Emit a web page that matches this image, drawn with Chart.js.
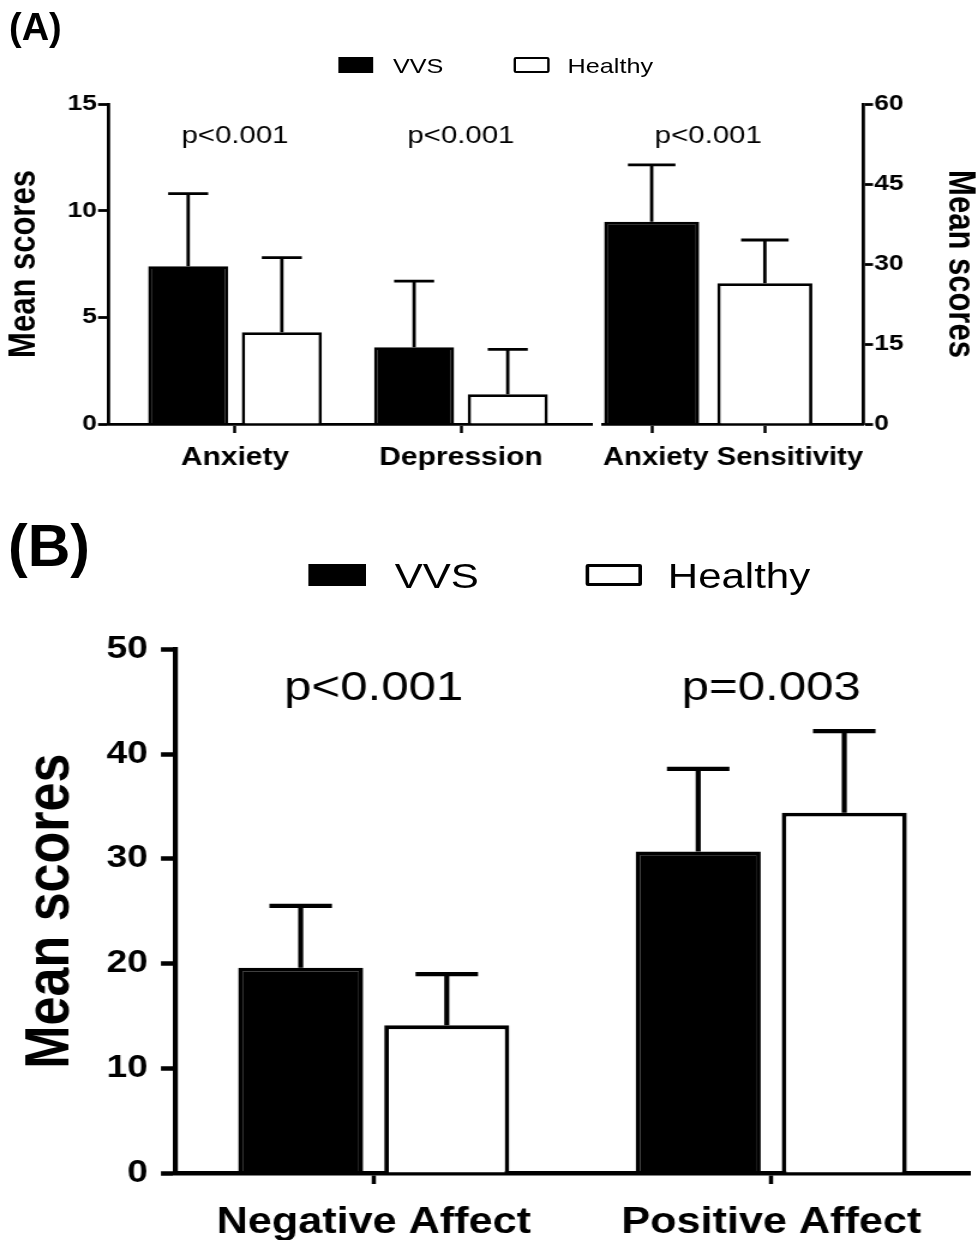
<!DOCTYPE html>
<html>
<head>
<meta charset="utf-8">
<title>Mean scores, VVS vs Healthy</title>
<script src="https://cdn.jsdelivr.net/npm/chart.js@4.4.1/dist/chart.umd.min.js"></script>
<style>
  html, body { margin: 0; padding: 0; background: #fff; width: 977px; height: 1245px; overflow: hidden; }
  body { position: relative; font-family: 'Liberation Sans', Arial, Helvetica, sans-serif; color: #000; }
  /* the figure is laid out at 814px and widened to the full page width */
  #fig { position: absolute; left: 0; top: 0; width: 814px; height: 1245px;
         transform: scaleX(1.2); transform-origin: 0 0; }
  #fig canvas { position: absolute; }
  .txt { position: absolute; white-space: nowrap; line-height: 1; }
  .swatch { position: absolute; box-sizing: border-box; }
</style>
</head>
<body>
<div id="fig">
  <canvas id="chartA1" width="500" height="394" style="left:0px;top:80px;width:500px;height:394px"></canvas>
  <canvas id="chartA2" width="330" height="394" style="left:490px;top:80px;width:330px;height:394px"></canvas>
  <canvas id="chartB" width="814" height="620" style="left:0px;top:620px;width:814px;height:620px"></canvas>
</div>
<script>
// ---- data ----
const seriesNames = ['VVS', 'Healthy'];

// Panel A, left axis
const categoriesA = ['Anxiety', 'Depression'];
const vvsMeanA = [7.4, 3.6];
const vvsSdA = [3.4, 3.1];
const healthyMeanA = [4.3, 1.4];
const healthySdA = [3.5, 2.1];
const pValuesA = ['p<0.001', 'p<0.001'];
const yTicksA = [0, 5, 10, 15];

// Panel A, right axis
const categoryAS = 'Anxiety Sensitivity';
const meanAS = [37.9, 26.4];   // VVS, Healthy
const sdAS = [10.7, 8.1];
const pValueAS = 'p<0.001';
const yTicksAS = [0, 15, 30, 45, 60];

// Panel B
const categoriesB = ['Negative Affect', 'Positive Affect'];
const vvsMeanB = [19.6, 30.7];
const vvsSdB = [5.9, 7.9];
const healthyMeanB = [14.1, 34.4];
const healthySdB = [4.9, 7.8];
const pValuesB = ['p<0.001', 'p=0.003'];
const yTicksB = [0, 10, 20, 30, 40, 50];

const axisTitle = 'Mean scores';

// ---- shared helpers ----
const FONT = "'Liberation Sans', Arial, Helvetica, sans-serif";
Chart.defaults.font.family = FONT;
Chart.defaults.color = '#000';

const ticksAt = values => scale => { scale.ticks = values.map(v => ({ value: v })); };
const fixWidth = w => scale => { scale.width = w; };
const fixHeight = h => scale => { scale.height = h; };

// upward-only SD whiskers with a cap half as wide as the bar
const errorBars = {
  id: 'errorBars',
  afterDatasetsDraw(chart, args, opts) {
    const ctx = chart.ctx;
    chart.data.datasets.forEach((ds, di) => {
      if (!ds.sd) return;
      const meta = chart.getDatasetMeta(di);
      const yScale = chart.scales[meta.yAxisID];
      ctx.save();
      ctx.strokeStyle = '#000';
      ctx.lineWidth = opts.lineWidth;
      ctx.lineCap = 'butt';
      meta.data.forEach((bar, i) => {
        const mean = meta.controller.getParsed(i).y;
        const top = yScale.getPixelForValue(mean + ds.sd[i]);
        const half = bar.width / 4;
        ctx.beginPath();
        ctx.moveTo(bar.x, bar.y);
        ctx.lineTo(bar.x, top);
        ctx.moveTo(bar.x - half, top);
        ctx.lineTo(bar.x + half, top);
        ctx.stroke();
      });
      ctx.restore();
    });
  }
};

// p-value annotations above each group
const pLabels = {
  id: 'pLabels',
  afterDatasetsDraw(chart, args, opts) {
    if (!opts.items) return;
    const ctx = chart.ctx;
    const xs = chart.scales.x;
    ctx.save();
    ctx.font = `${opts.size}px ${FONT}`;
    ctx.fillStyle = '#000';
    ctx.textAlign = 'center';
    ctx.textBaseline = 'alphabetic';
    opts.items.forEach(it => ctx.fillText(it.text, xs.getPixelForValue(it.at), chart.chartArea.top + opts.offset));
    ctx.restore();
  }
};

// ---- HTML labels and legends ----
const fig = document.getElementById('fig');
function addText(parent, text, left, baseline, size, bold) {
  const d = document.createElement('div');
  d.className = 'txt';
  d.textContent = text;
  d.style.left = left + 'px';
  d.style.top = (baseline - 0.8465 * size) + 'px';
  d.style.fontSize = size + 'px';
  if (bold) d.style.fontWeight = 'bold';
  parent.appendChild(d);
}
function addSwatch(left, top, w, h, filled, border) {
  const d = document.createElement('div');
  d.className = 'swatch';
  Object.assign(d.style, { left: left + 'px', top: top + 'px', width: w + 'px', height: h + 'px' });
  if (filled) d.style.background = '#000';
  else { d.style.background = '#fff'; d.style.border = border + 'px solid #000'; d.style.borderRadius = '2px'; }
  fig.appendChild(d);
}

// panel letters sit outside the widened figure
addText(document.body, '(A)', 9, 40, 38, true);
addText(document.body, '(B)', 8, 567, 59, true);

addSwatch(282, 57, 29, 16, true);
addText(fig, seriesNames[0], 327.5, 72.5, 21, false);
addSwatch(427.5, 57, 30, 16, false, 2.5);
addText(fig, seriesNames[1], 473, 72.5, 21, false);

addSwatch(257, 564, 47.5, 22, true);
addText(fig, seriesNames[0], 329, 588, 35, false);
addSwatch(488, 564, 46.5, 22, false, 3.5);
addText(fig, seriesNames[1], 556.5, 588, 35, false);

// ---- Panel A: Anxiety and Depression (left axis) ----
const LW_A = 2.8;
new Chart(document.getElementById('chartA1'), {
  type: 'bar',
  data: {
    datasets: [
      { label: seriesNames[0], data: categoriesA.map((c, i) => ({ x: i, y: vvsMeanA[i] })), sd: vvsSdA,
        backgroundColor: '#000', borderColor: '#000', borderWidth: LW_A },
      { label: seriesNames[1], data: categoriesA.map((c, i) => ({ x: i, y: healthyMeanA[i] })), sd: healthySdA,
        backgroundColor: '#fff', borderColor: '#000', borderWidth: LW_A }
    ]
  },
  options: {
    responsive: false, animation: false, devicePixelRatio: 1, events: [],
    datasets: { bar: { categoryPercentage: 0.829, barPercentage: 0.855 } },
    layout: { padding: { top: 24, right: 6.7, left: 0, bottom: 0 } },
    plugins: {
      legend: { display: false }, tooltip: { enabled: false },
      errorBars: { lineWidth: LW_A },
      pLabels: { size: 24.5, offset: 39, items: pValuesA.map((t, i) => ({ text: t, at: i })) }
    },
    scales: {
      x: {
        type: 'linear', min: -0.562, max: 1.58, offset: false, z: 1,
        afterBuildTicks: ticksAt(categoriesA.map((c, i) => i)),
        afterFit: fixHeight(50),
        ticks: { callback: v => categoriesA[v], autoSkip: false, maxRotation: 0, padding: 10,
                 font: { size: 25, weight: 'bold' } },
        grid: { offset: false, drawOnChartArea: false, tickLength: 9, tickWidth: 2.5, tickColor: '#000' },
        border: { color: '#000', width: LW_A }
      },
      y: {
        min: 0, max: 15,
        afterBuildTicks: ticksAt(yTicksA),
        afterFit: fixWidth(90),
        ticks: { padding: 1, font: { size: 22, weight: 'bold' } },
        grid: { drawOnChartArea: false, tickLength: 8.3, tickWidth: LW_A, tickColor: '#000' },
        border: { color: '#000', width: LW_A },
        title: { display: true, text: axisTitle, font: { size: 31, weight: 'bold' }, padding: { top: 1.4, bottom: 0 } }
      }
    }
  },
  plugins: [errorBars, pLabels]
});

// ---- Panel A: Anxiety Sensitivity (right axis) ----
new Chart(document.getElementById('chartA2'), {
  type: 'bar',
  data: {
    datasets: [
      { label: seriesNames[0], data: [{ x: 0, y: meanAS[0] }], sd: [sdAS[0]],
        backgroundColor: '#000', borderColor: '#000', borderWidth: LW_A },
      { label: seriesNames[1], data: [{ x: 1, y: meanAS[1] }], sd: [sdAS[1]],
        backgroundColor: '#fff', borderColor: '#000', borderWidth: LW_A }
    ]
  },
  options: {
    responsive: false, animation: false, devicePixelRatio: 1, events: [],
    datasets: { bar: { grouped: false, categoryPercentage: 1, barPercentage: 0.84 } },
    layout: { padding: { top: 24, right: 0, left: 12.5, bottom: 0 } },
    plugins: {
      legend: { display: false }, tooltip: { enabled: false },
      errorBars: { lineWidth: LW_A },
      pLabels: { size: 24.5, offset: 39, items: [{ text: pValueAS, at: 0.5 }] }
    },
    scales: {
      x: {
        type: 'linear', min: -0.43, max: 1.868, offset: false, z: 1,
        afterBuildTicks: ticksAt(meanAS.map((m, i) => i)),
        afterFit: fixHeight(50),
        ticks: { callback: () => '', autoSkip: false, maxRotation: 0, padding: 0 },
        grid: { offset: false, drawOnChartArea: false, tickLength: 9, tickWidth: 2.5, tickColor: '#000' },
        border: { color: '#000', width: LW_A },
        title: { display: true, text: categoryAS, font: { size: 25, weight: 'bold' }, padding: { top: 0, bottom: 1 } }
      },
      y: {
        position: 'right', min: 0, max: 60,
        afterBuildTicks: ticksAt(yTicksAS),
        afterFit: fixWidth(100.8),
        ticks: { padding: 1, font: { size: 22, weight: 'bold' } },
        grid: { drawOnChartArea: false, tickLength: 8.3, tickWidth: LW_A, tickColor: '#000' },
        border: { color: '#000', width: LW_A },
        title: { display: true, text: axisTitle, font: { size: 31, weight: 'bold' }, padding: { top: 1.8, bottom: 0 } }
      }
    }
  },
  plugins: [errorBars, pLabels]
});

// ---- Panel B: Negative and Positive Affect ----
const LW_B = 4.2;
new Chart(document.getElementById('chartB'), {
  type: 'bar',
  data: {
    labels: categoriesB,
    datasets: [
      { label: seriesNames[0], data: vvsMeanB, sd: vvsSdB,
        backgroundColor: '#000', borderColor: '#000', borderWidth: 3.8 },
      { label: seriesNames[1], data: healthyMeanB, sd: healthySdB,
        backgroundColor: '#fff', borderColor: '#000', borderWidth: 3.8 }
    ]
  },
  options: {
    responsive: false, animation: false, devicePixelRatio: 1, events: [],
    datasets: { bar: { categoryPercentage: 0.735, barPercentage: 0.856 } },
    layout: { padding: { top: 24, right: 5.7, left: 0, bottom: 0 } },
    plugins: {
      legend: { display: false }, tooltip: { enabled: false },
      errorBars: { lineWidth: LW_B },
      pLabels: { size: 41, offset: 51, items: pValuesB.map((t, i) => ({ text: t, at: i })) }
    },
    scales: {
      x: {
        offset: true, z: 1,
        afterFit: fixHeight(67),
        ticks: { autoSkip: false, maxRotation: 0, padding: 17, font: { size: 36, weight: 'bold' } },
        grid: { offset: false, drawOnChartArea: false, tickLength: 11, tickWidth: 3.5, tickColor: '#000' },
        border: { color: '#000', width: 4.5 }
      },
      y: {
        min: 0, max: 50,
        afterBuildTicks: ticksAt(yTicksB),
        afterFit: fixWidth(145.8),
        ticks: { padding: 10.8, font: { size: 31, weight: 'bold' } },
        grid: { drawOnChartArea: false, tickLength: 11.7, tickWidth: 4.5, tickColor: '#000' },
        border: { color: '#000', width: LW_B },
        title: { display: true, text: axisTitle, font: { size: 52, weight: 'bold' }, padding: { top: 11.3, bottom: 0 } }
      }
    }
  },
  plugins: [errorBars, pLabels]
});
</script>
</body>
</html>
